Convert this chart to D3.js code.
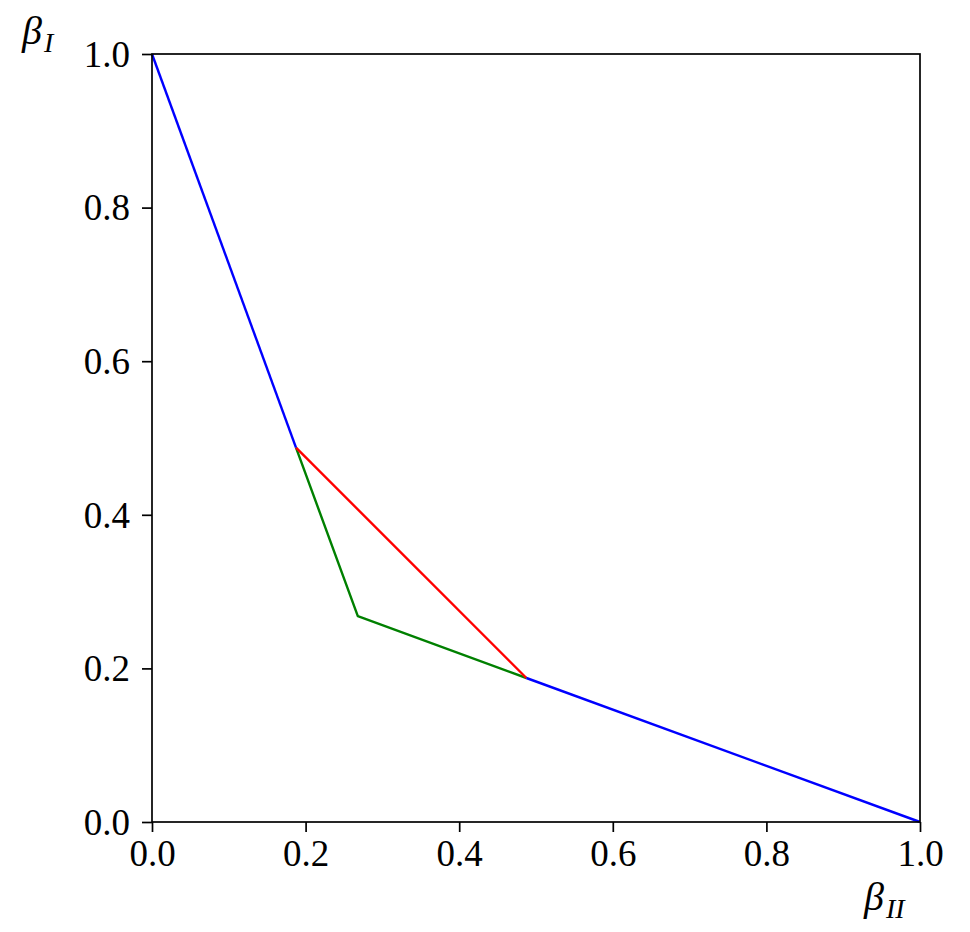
<!DOCTYPE html>
<html><head><meta charset="utf-8">
<script src="https://cdn.jsdelivr.net/npm/d3@7"></script>
<style>body{margin:0;background:#fff}</style>
</head><body>
<svg id="c" width="970" height="932"></svg>
<script>
const ticks = [0.0, 0.2, 0.4, 0.6, 0.8, 1.0];
const tickLabels = ["0.0", "0.2", "0.4", "0.6", "0.8", "1.0"];
const blueUpper = [[0, 1], [0.1875, 0.4875]];
const blueLower = [[0.4875, 0.1875], [1, 0]];
const redSeg = [[0.1875, 0.4875], [0.4875, 0.1875]];
const greenSeg = [[0.1875, 0.4875], [0.268, 0.268], [0.4875, 0.1875]];

const svg = d3.select("#c");
const L = 152, R = 920, T = 54, B = 822;
const x = d3.scaleLinear().domain([0, 1]).range([L, R]);
const y = d3.scaleLinear().domain([0, 1]).range([B, T]);
const font = "'Liberation Serif', 'DejaVu Serif', serif";

const line = d3.line().x(d => x(d[0])).y(d => y(d[1]));
const series = [[greenSeg, "#008000"], [redSeg, "#ff0000"], [blueUpper, "#0000ff"], [blueLower, "#0000ff"]];
series.forEach(([d, c]) => {
  svg.append("path").attr("d", line(d)).attr("fill", "none")
    .attr("stroke", c).attr("stroke-width", 2.4).attr("stroke-linejoin", "round");
});

svg.append("rect").attr("x", L).attr("y", T).attr("width", R - L).attr("height", B - T)
  .attr("fill", "none").attr("stroke", "#000").attr("stroke-width", 1.7);

const xa = svg.append("g").attr("transform", `translate(0,${B})`)
  .call(d3.axisBottom(x).tickValues(ticks).tickFormat((d, i) => tickLabels[i]).tickSize(10).tickPadding(8));
const ya = svg.append("g").attr("transform", `translate(${L},0)`)
  .call(d3.axisLeft(y).tickValues(ticks).tickFormat((d, i) => tickLabels[i]).tickSize(10).tickPadding(12));
[xa, ya].forEach(g => {
  g.select(".domain").remove();
  g.selectAll("line").attr("stroke", "#000").attr("stroke-width", 1.7);
  g.selectAll("text").attr("font-family", font).attr("font-size", 37).attr("fill", "#000");
});
ya.selectAll("text").attr("dy", "0.33em");

const yl = svg.append("text").attr("x", 22).attr("y", 44).attr("font-family", font)
  .attr("font-size", 40).attr("font-style", "italic");
yl.append("tspan").text("β");
yl.append("tspan").attr("font-size", 28).attr("dy", 8).attr("dx", 2).text("I");

const xl = svg.append("text").attr("x", 864).attr("y", 910).attr("font-family", font)
  .attr("font-size", 40).attr("font-style", "italic");
xl.append("tspan").text("β");
xl.append("tspan").attr("font-size", 28).attr("dy", 8).attr("dx", 2).text("II");
</script>
</body></html>
